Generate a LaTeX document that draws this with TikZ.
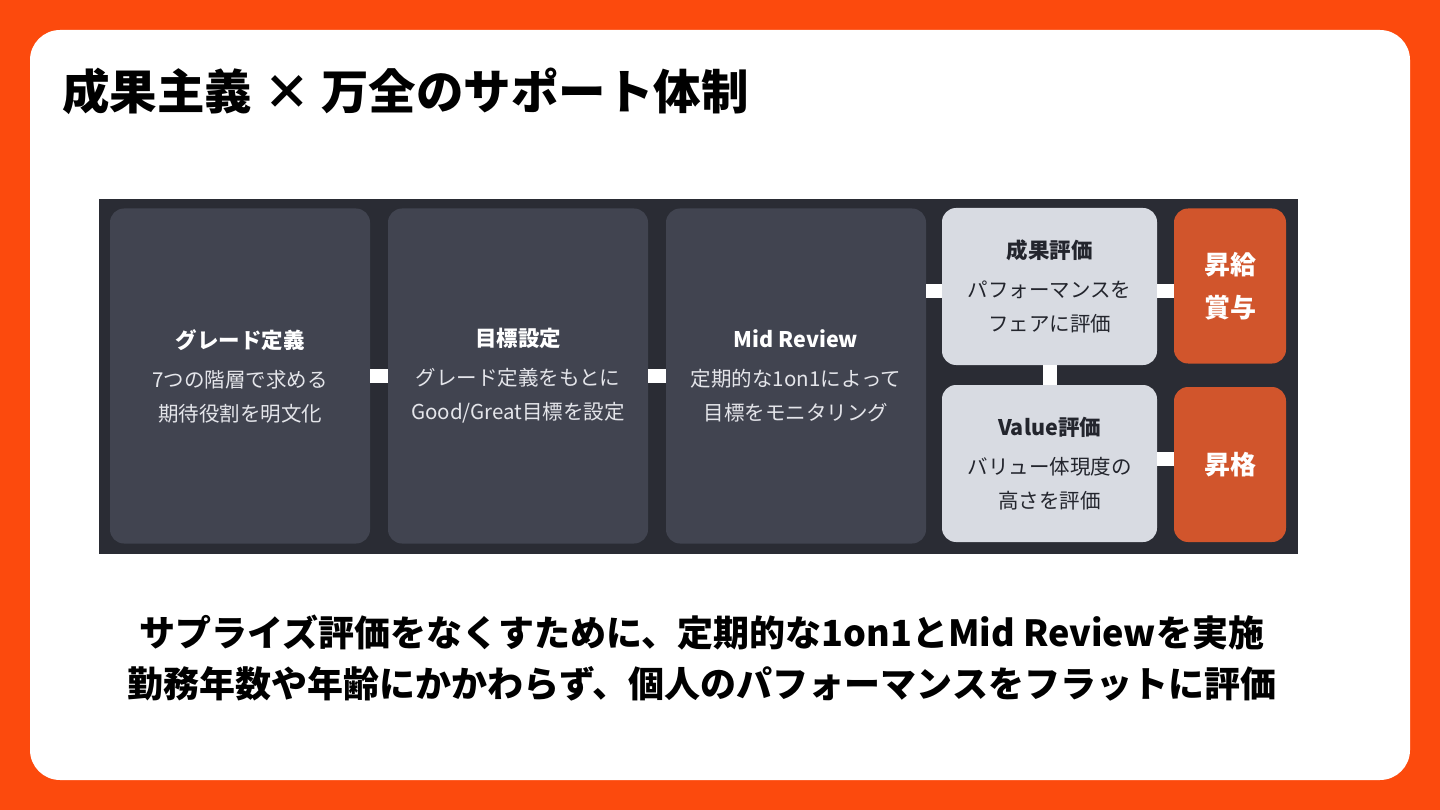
\documentclass[tikz,border=0pt]{standalone}
\usepackage{fontspec}
\setmainfont{Noto Sans CJK JP}
\newfontfamily\heavyjp{Noto Sans CJK JP Black}
\usetikzlibrary{positioning}

\definecolor{pageorange}{HTML}{FC4A0D}
\definecolor{panelbg}{HTML}{2A2C34}
\definecolor{carddark}{HTML}{414450}
\definecolor{cardlight}{HTML}{D8DBE2}
\definecolor{cardorange}{HTML}{D1552C}
\definecolor{inkdark}{HTML}{23252D}
\definecolor{inklight}{HTML}{E4E5EA}

\newcommand{\cardhead}[1]{{\bfseries\fontsize{21.5}{34}\selectfont #1}}

\begin{document}
\begin{tikzpicture}[
        x=1pt, y=-1pt,
        font=\fontsize{20.5}{34}\selectfont,
        step card/.style={rectangle, rounded corners=14pt, inner sep=0pt, align=center},
        stepbox/.style={step card, fill=carddark, text=inklight, minimum width=260pt, minimum height=335pt},
        evalbox/.style={step card, fill=cardlight, text=inkdark, minimum width=215pt, minimum height=157pt},
        rewardbox/.style={step card, fill=cardorange, text=white, minimum width=112pt, minimum height=155pt,
            font=\bfseries\fontsize{26}{43}\selectfont},
        link/.style={white, line width=14pt}
    ]

    % Page and frame
    \fill[pageorange] (0,0) rectangle (1440,810);
    \fill[white, rounded corners=30pt] (30,30) rectangle (1410,780);
    \useasboundingbox (0,0) rectangle (1440,810);

    % Heading
    \node[anchor=west, inner sep=0pt, font=\heavyjp\fontsize{47.5}{52}\selectfont] (heading) at (62,91) {成果主義 × 万全のサポート体制};

    % Flow panel
    \fill[panelbg] (99,199) rectangle (1298,554);

    \node[stepbox] (grade) at (240,376) {\cardhead{\textcolor{white}{グレード定義}}\\[5pt] 7つの階層で求める\\ 期待役割を明文化};
    \node[stepbox] (goal) at (518,376) {\cardhead{\textcolor{white}{目標設定}}\\[5pt] グレード定義をもとに\\ Good/Great目標を設定};
    \node[stepbox] (mid) at (796,376) {\cardhead{\textcolor{white}{Mid Review}}\\[5pt] 定期的な1on1によって\\ 目標をモニタリング};

    \node[evalbox] (result) at (1049.5,286.5) {\cardhead{成果評価}\\[5pt] パフォーマンスを\\ フェアに評価};
    \node[evalbox] (value) at (1049.5,463.5) {\cardhead{Value評価}\\[5pt] バリュー体現度の\\ 高さを評価};

    \node[rewardbox] (pay) at (1230,286) {昇給\\ 賞与};
    \node[rewardbox] (promo) at (1230,464.5) {昇格};

    % Connectors
    \draw[link] (grade.east) -- (goal.west);
    \draw[link] (goal.east) -- (mid.west);
    \draw[link] ([yshift=-4.5pt]result.west) -- ([yshift=-4.5pt]result.west -| mid.east);
    \draw[link] ([yshift=-4.5pt]result.east) -- ([yshift=-4.5pt]result.east -| pay.west);
    \draw[link] (result.south) -- (value.north);
    \draw[link] ([yshift=4.5pt]value.east) -- ([yshift=4.5pt]value.east -| promo.west);

    % Summary
    \node[align=center, inner sep=0pt, font=\heavyjp\fontsize{36}{51}\selectfont] (summary) at (702,658)
        {サプライズ評価をなくすために、定期的な1on1とMid Reviewを実施\\
         勤務年数や年齢にかかわらず、個人のパフォーマンスをフラットに評価};

\end{tikzpicture}
\end{document}
